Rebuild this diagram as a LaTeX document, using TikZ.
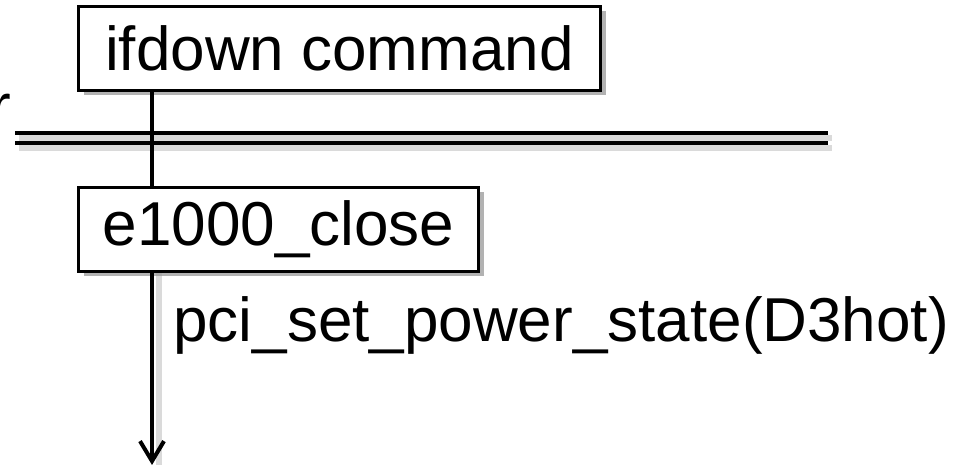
\documentclass[tikz,border=0pt]{standalone}
\usepackage{fontspec}
\setmainfont{Liberation Sans}
\usetikzlibrary{arrows.meta, positioning, shadows, calc}
\definecolor{shadowgray}{RGB}{150, 150, 150}

\tikzset{
  callbox/.style={draw=black, fill=white, line width=1.5pt,
    minimum height=42pt, inner xsep=8pt,
    font=\fontsize{31}{37}\selectfont,
    drop shadow={shadow xshift=2.5pt, shadow yshift=-2.5pt, opacity=0.3, fill=black}},
  flow/.style={line width=2pt, black},
  spaceline/.style={line width=2pt, black},
  softshadow/.style={shadowgray, opacity=0.35, line width=3pt}
}

\begin{document}
\begin{tikzpicture}[x=0.5pt, y=-0.5pt]
        \useasboundingbox (0,0) rectangle (968,469);

        % ── Clipped label at the left edge ──────────────────────────────
        \node[anchor=base east, inner sep=0pt, font=\fontsize{31}{37}\selectfont]
        (cut) at (12,128) {r};

        % ── Boundary (double line) ──────────────────────────────────────
        \foreach \y in {133, 143}{
        	\draw[softshadow] (19,\y+5) -- (832,\y+5);
        	\draw[spaceline] (15,\y) -- (828,\y);
        }

        % ── Box 1: ifdown command ───────────────────────────────────────
        \node[callbox, anchor=north west, minimum width=261pt]
        (ifdown) at (77,5) {ifdown command};

        % ── Box 2: e1000_close ──────────────────────────────────────────
        \node[callbox, anchor=north west, minimum width=200pt]
        (e1000) at (77,186) {e1000\_close};

        % ── Call label ──────────────────────────────────────────────────
        \node[anchor=base west, inner sep=0pt, font=\fontsize{31}{37}\selectfont]
        (pci) at (173,342) {pci\_set\_power\_state(D3hot)};

        % ── Call path ───────────────────────────────────────────────────
        \coordinate (tap) at (152,0);
        \coordinate (sink) at (152,465);
        \draw[softshadow] ($(e1000.south -| tap)+(7,0)$) -- ($(sink)+(7,0)$);
        \draw[flow] (ifdown.south -| tap) -- (e1000.north -| tap);
        \draw[flow, -{Straight Barb[length=10pt, width=12pt]}]
        (e1000.south -| tap) -- (sink);
      \end{tikzpicture}
\end{document}
